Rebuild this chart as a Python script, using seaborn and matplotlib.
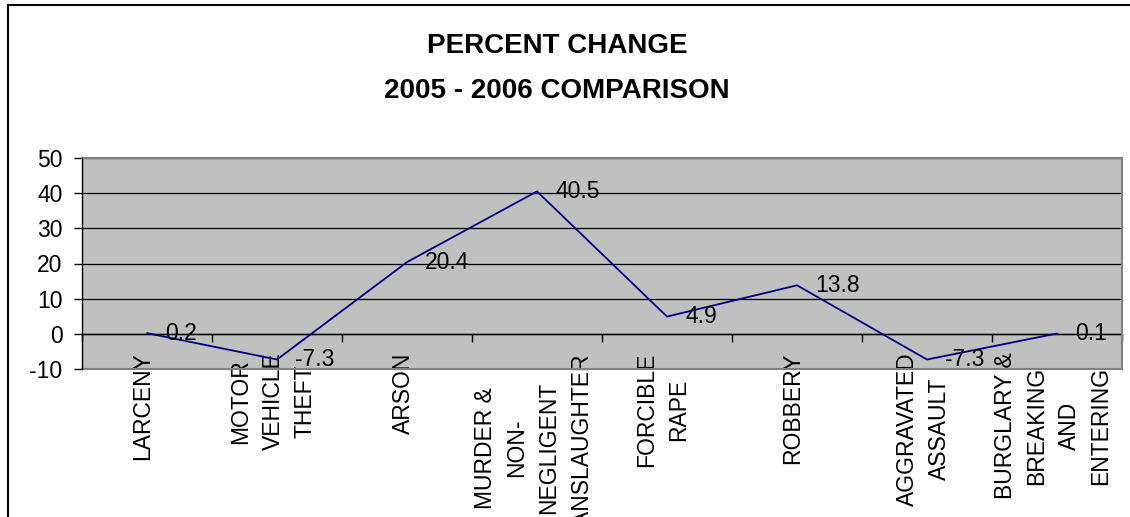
import matplotlib
matplotlib.use("Agg")
import matplotlib.pyplot as plt
import matplotlib.transforms as mtransforms
import seaborn as sns
import pandas as pd
from matplotlib.lines import Line2D

# Offence categories and their percent change between 2005 and 2006
crimes = [
    "LARCENY",
    "MOTOR\nVEHICLE\nTHEFT",
    "ARSON",
    "MURDER &\nNON-\nNEGLIGENT\nMANSLAUGHTER",
    "FORCIBLE\nRAPE",
    "ROBBERY",
    "AGGRAVATED\nASSAULT",
    "BURGLARY &\nBREAKING\nAND\nENTERING",
]
pct_change = [0.2, -7.3, 20.4, 40.5, 4.9, 13.8, -7.3, 0.1]
y_ticks = [-10, 0, 10, 20, 30, 40, 50]

title_text = "PERCENT CHANGE\n2005 - 2006 COMPARISON"

sns.set_style("white")
plt.rcParams["font.family"] = ["Liberation Sans", "DejaVu Sans"]
plt.rcParams["axes.unicode_minus"] = False
for key in ["text.color", "xtick.color", "ytick.color", "axes.labelcolor"]:
    plt.rcParams[key] = "black"

df = pd.DataFrame({"pos": range(len(crimes)), "change": pct_change})

W, H = 1130, 517
fig = plt.figure(figsize=(W / 100, H / 100), dpi=100)
ax = fig.add_axes([82 / W, 1 - 369 / H, (1122 - 82) / W, (369 - 158) / H])
ax.set_facecolor("#C0C0C0")

sns.lineplot(data=df, x="pos", y="change", ax=ax, color="#000080",
             linewidth=1.3, sort=False, zorder=4)

ax.set_xlim(-0.5, len(crimes) - 0.5)
ax.set_ylim(y_ticks[0], y_ticks[-1])
ax.set_yticks(y_ticks)
ax.set_xlabel("")
ax.set_ylabel("")

# horizontal gridlines
ax.grid(axis="y", color="black", linewidth=0.9, zorder=1)
ax.grid(axis="x", visible=False)
ax.set_axisbelow(True)

# plot-area frame
for side in ["top", "right", "bottom"]:
    ax.spines[side].set_color("#808080")
    ax.spines[side].set_linewidth(1.5)
    ax.spines[side].set_zorder(5)
ax.spines["left"].set_color("black")
ax.spines["left"].set_linewidth(1.0)
ax.spines["left"].set_zorder(6)

ax.tick_params(axis="y", direction="out", length=6, width=1, color="black",
               labelsize=16.5, pad=8, left=True)

# category labels (rotated) placed just under the plot area
ax.set_xticks(range(len(crimes)))
ax.set_xticklabels(crimes, rotation=90, fontsize=16.5, linespacing=1.5)
ax.tick_params(axis="x", length=0, pad=-12)
shift = mtransforms.ScaledTranslation(-4 / 100, 0, fig.dpi_scale_trans)
for lbl in ax.get_xticklabels():
    lbl.set_transform(lbl.get_transform() + shift)

# category axis drawn along the zero line with boundary tick marks
zero_frac = (0 - y_ticks[0]) / (y_ticks[-1] - y_ticks[0])
sec = ax.secondary_xaxis(zero_frac)
sec.set_xticks([i + 0.5 for i in range(-1, len(crimes))])
sec.tick_params(axis="x", direction="out", length=6, width=1, color="black",
                labelbottom=False)
sec.spines["bottom"].set_color("black")
sec.spines["bottom"].set_linewidth(1.0)

# value labels next to each point
for i, v in enumerate(pct_change):
    ax.annotate(f"{v:.1f}", xy=(i, v), xytext=(13, 0),
                textcoords="offset points", ha="left", va="center",
                fontsize=16.5, color="black", zorder=6)

# chart title
fig.text(557 / W, 1 - 33 / H, title_text, ha="center", va="top",
         fontsize=20, fontweight="bold", linespacing=1.97)

# chart frame (left and top edges)
fig.add_artist(Line2D([8 / W, 8 / W], [0, 1 - 5 / H], color="black",
                      linewidth=1.5, transform=fig.transFigure))
fig.add_artist(Line2D([8 / W, 1], [1 - 5 / H, 1 - 5 / H], color="black",
                      linewidth=1.5, transform=fig.transFigure))

fig.savefig("out.png", dpi=100)
